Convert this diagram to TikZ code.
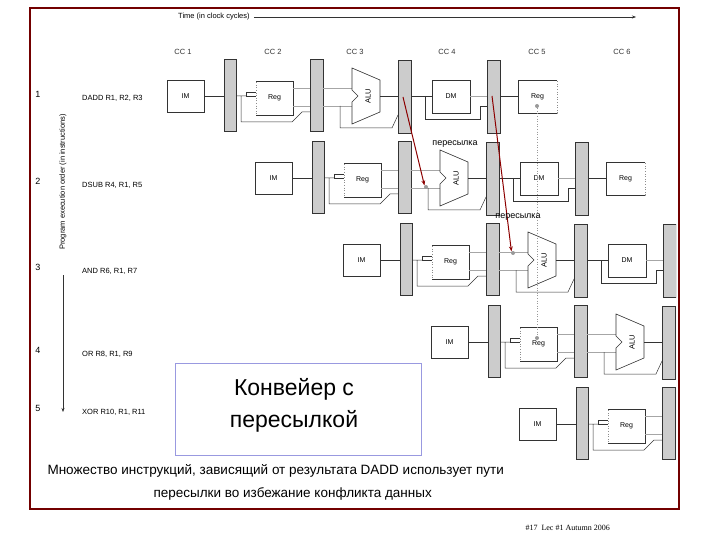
\documentclass[tikz,border=0pt]{standalone}
\usepackage{fontspec}
\setmainfont{Liberation Sans}
\newfontfamily\footfont{Liberation Serif}
\usetikzlibrary{arrows.meta}
\begin{document}
\begin{tikzpicture}[x=1pt,y=-1pt,
  bar/.style={draw=black!80,fill=black!20,line width=0.6pt},
  unit/.style={draw=black!80,line width=0.6pt,fill=white,font=\fontsize{7}{8}\selectfont,inner sep=0pt},
  dunit/.style={draw=black!45,dotted,line width=0.6pt,fill=white,font=\fontsize{7}{8}\selectfont,inner sep=0pt},
  wire/.style={draw=black!80,line width=0.5pt},
  lwire/.style={draw=black!35,line width=0.5pt},
  fwd/.style={draw=red!55!black,line width=1pt,-{Stealth[length=5pt]}},
  small/.style={font=\fontsize{7.5}{9}\selectfont,inner sep=0pt},
  dot/.style={circle,fill=black!40,inner sep=0pt,minimum size=4pt}]
\useasboundingbox (0,0) rectangle (720,540);
\draw[draw=red!45!black,line width=1.5pt] (30,8) rectangle (679,509);
% header
\node[small,anchor=west] (time) at (178,17) {Time (in clock cycles)};
\coordinate (tend) at (636,17);
\draw[wire,-{Stealth[length=4pt]}] (time.east)++(4,0) -- (tend);
\foreach \t/\x in {CC 1/183,CC 2/273,CC 3/355,CC 4/447,CC 5/537,CC 6/622}
  \node[small,text=black!80] at (\x,52) {\t};
% left labels
\foreach \n/\y/\s in {1/94/DADD R1{,} R2{,} R3,2/181/DSUB R4{,} R1{,} R5,3/267/AND R6{,} R1{,} R7,4/350/OR R8{,} R1{,} R9,5/408/XOR R10{,} R1{,} R11}{
  \node[font=\fontsize{9}{10}\selectfont] at (38,\y) {\n};
  \node[small,anchor=west] at (82,\y+4) {\s};}
\node[small,rotate=90] (peo) at (63,182) {Program execution order (in instructions)};
\coordinate (peoend) at (63,412);
\draw[wire,-{Stealth[length=4pt]}] (63,275) -- (peoend);
% pipelines
\begin{scope}
\clip (30,8) rectangle (676,509);
\foreach \k in {0,...,4}{
 \begin{scope}[shift={(88*\k,82*\k)}]
  \node[unit,minimum width=37pt,minimum height=32pt] (im\k) at (185.5,96) {IM};
  \draw[wire] (204,96) -- (224,96);
  \draw[bar] (224,59) rectangle (236,131);
  \node[dunit,minimum width=37pt,minimum height=34pt] (rg\k) at (274.5,98) {Reg};
  \draw[wire] (256,81) -- (293,81) -- (293,115) -- (256,115);
  \draw[wire] (236,96) -- (246,96) (241,96) -- (241,122) -- (292,122) -- (302,112) -- (310,112);
  \draw[wire] (246,92) -- (246,96) -- (256,96) (246,92) -- (256,92);
  \draw[lwire] (293,88) -- (310,88) (293,106) -- (310,106);
  \draw[bar] (310,59) rectangle (323,131);
  \ifnum\k<4
  \draw[lwire] (323,88) -- (352,88) (323,106) -- (352,106);
  \draw[wire] (340,106) -- (340,128) -- (392,128) -- (398,115);
  \draw[unit] (352,68) -- (380,80) -- (380,112) -- (352,124) -- (352,102) -- (358,96) -- (352,90) -- cycle;
  \node[small,rotate=90] (alu\k) at (368,96) {ALU};
  \draw[wire] (380,96) -- (398,96);
  \draw[bar] (398,60) rectangle (411,133);
  \fi
  \ifnum\k<3
  \node[unit,minimum width=38pt,minimum height=33pt] (dm\k) at (451,96.5) {DM};
  \draw[wire] (411,96) -- (432,96) (425,96) -- (425,119) -- (480,119) -- (480,106) -- (487,106);
  \draw[lwire] (470,96) -- (487,96);
  \draw[bar] (487,60) rectangle (500,133);
  \fi
  \ifnum\k<2
  \node[dunit,minimum width=39pt,minimum height=33pt] (wb\k) at (537.5,96.5) {Reg};
  \draw[wire] (557,80) -- (518,80) -- (518,113) -- (557,113);
  \draw[wire] (500,96) -- (518,96);
  \fi
 \end{scope}}
\end{scope}
% forwarding
\node[dot] (d0) at (537,106) {};
\node[dot] (d3) at (537,338) {};
\draw[draw=black!40,dotted,line width=0.6pt] (d0) -- (d3);
\node[dot] (f1) at (426,187) {};
\node[dot] (f2) at (513,253) {};
\coordinate (s1) at (403,97);
\coordinate (s2) at (492,96);
\draw[fwd] (s1) -- (f1.north west);
\draw[fwd] (s2) -- (f2.north west);
\node[font=\fontsize{9}{10}\selectfont] (p1) at (455,144) {пересылка};
\node[font=\fontsize{9}{10}\selectfont] (p2) at (518,217) {пересылка};
% title box
\draw[draw=black!30!blue!40,fill=white,line width=0.6pt] (175,363) rectangle (421,455);
\node[align=center,font=\fontsize{23}{32}\selectfont] (title) at (294,405) {Конвейер с\\пересылкой};
\node[font=\fontsize{13.5}{16}\selectfont,anchor=west] (n1) at (44,471) {Множество инструкций, зависящий от результата DADD использует пути};
\node[font=\fontsize{13.5}{16}\selectfont,anchor=west] (n2) at (150,494) {пересылки во избежание конфликта данных};
\node[font=\footfont\fontsize{8}{9}\selectfont,anchor=west] (foot) at (522,528) {\#17\enspace Lec \#1 Autumn 2006};
\end{tikzpicture}
\end{document}
